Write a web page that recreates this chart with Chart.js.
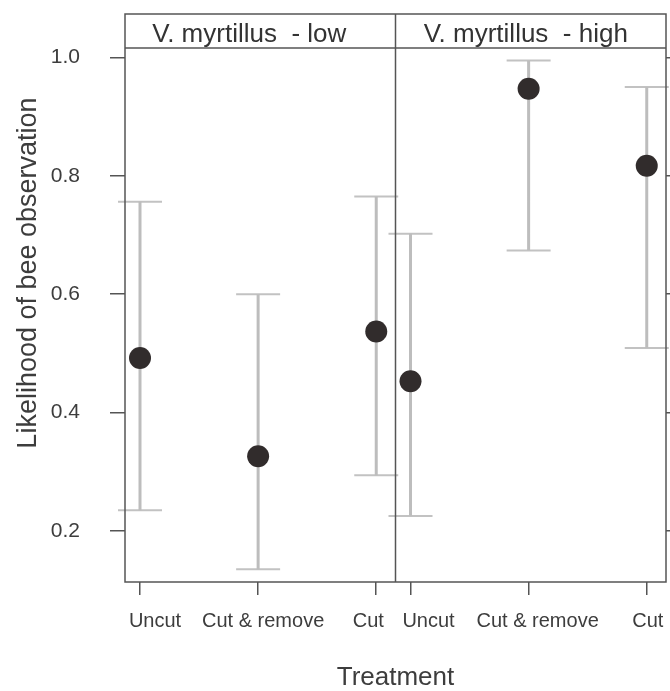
<!DOCTYPE html>
<html>
<head>
<meta charset="utf-8">
<script src="https://cdn.jsdelivr.net/npm/chart.js@4/dist/chart.umd.min.js"></script>
<style>
  body { margin: 0; background: #fff; }
  canvas { display: block; }
</style>
</head>
<body>
<canvas id="effectChart" width="670" height="691"></canvas>
<script>
// treatments and panels
var categories = ["Uncut", "Cut & remove", "Cut"];
var panels = ["V. myrtillus  - low", "V. myrtillus  - high"];

// fitted likelihood and 95% limits, per panel
var lowFit = [0.492, 0.326, 0.537];
var lowLower = [0.235, 0.135, 0.294];
var lowUpper = [0.756, 0.600, 0.765];

var highFit = [0.453, 0.947, 0.817];
var highLower = [0.225, 0.674, 0.509];
var highUpper = [0.702, 0.995, 0.950];

var yTicks = [0.2, 0.4, 0.6, 0.8, 1.0];
var yTitle = "Likelihood of bee observation";

// x layout: each panel spans PANEL_W category units
var X_MIN = 0.873;
var PANEL_W = 2.29;
var X_MAX = X_MIN + 2 * PANEL_W;
// the original nudges tick labels sideways so they don't collide (px)
var LABEL_SHIFT = [15, 5, -8, 18, 9, 1];
var STRIP_SHIFT = [-11, -5];

var fits = [lowFit, highFit];
var lowers = [lowLower, highLower];
var uppers = [lowUpper, highUpper];

function xOf(p, i) {
  return p * PANEL_W + i + 1;
}

var pointData = [], whiskerData = [], capData = [], xTickPos = [];
for (var p = 0; p < panels.length; p++) {
  for (var i = 0; i < categories.length; i++) {
    var x = xOf(p, i);
    xTickPos.push(x);
    pointData.push({x: x, y: fits[p][i]});
    whiskerData.push({x: x, y: lowers[p][i]});
    whiskerData.push({x: x, y: uppers[p][i]});
    whiskerData.push({x: x, y: null});
    capData.push({x: x, y: lowers[p][i]});
    capData.push({x: x, y: uppers[p][i]});
  }
}

var FONT = "'Liberation Sans', Arial, sans-serif";
var TEXT = "#3d3d3d";
var FRAME = "#555555";

// panel borders, divider, strip headers, x labels and the y title
var latticeFrame = {
  id: "latticeFrame",
  afterDatasetsDraw: function(chart) {
    var ctx = chart.ctx;
    var a = chart.chartArea;
    var xs = chart.scales.x;
    var stripTop = 14;
    ctx.save();
    ctx.strokeStyle = FRAME;
    ctx.lineWidth = 1.5;
    ctx.strokeRect(a.left, stripTop, a.right - a.left, a.bottom - stripTop);
    ctx.beginPath();
    ctx.moveTo(a.left, a.top);
    ctx.lineTo(a.right, a.top);
    var mid = xs.getPixelForValue(X_MIN + PANEL_W);
    ctx.moveTo(mid, stripTop);
    ctx.lineTo(mid, a.bottom);
    ctx.stroke();

    ctx.fillStyle = "#333";
    ctx.font = "26px " + FONT;
    ctx.textAlign = "center";
    ctx.textBaseline = "alphabetic";
    for (var p = 0; p < panels.length; p++) {
      var l = xs.getPixelForValue(X_MIN + p * PANEL_W);
      var r = xs.getPixelForValue(X_MIN + (p + 1) * PANEL_W);
      ctx.fillText(panels[p], (l + r) / 2 + STRIP_SHIFT[p], 42);
    }

    ctx.fillStyle = TEXT;
    ctx.font = "20px " + FONT;
    xs.ticks.forEach(function(t, k) {
      ctx.fillText(categories[k % categories.length], xs.getPixelForValue(t.value) + LABEL_SHIFT[k], 627);
    });

    ctx.font = "27px " + FONT;
    ctx.translate(36, 273);
    ctx.rotate(-Math.PI / 2);
    ctx.fillText(yTitle, 0, 0);
    ctx.restore();
  }
};

var ctx = document.getElementById("effectChart").getContext("2d");

var myChart = new Chart(ctx, {
  type: "scatter",
  data: {
    datasets: [
      {
        data: pointData,
        pointRadius: 11,
        pointBackgroundColor: "#312c2c",
        pointBorderWidth: 0,
        clip: false,
        order: 0
      },
      {
        data: whiskerData,
        showLine: true,
        spanGaps: false,
        borderColor: "#bdbdbd",
        borderWidth: 3,
        pointRadius: 0,
        clip: false,
        order: 1
      },
      {
        data: capData,
        pointStyle: "line",
        pointRadius: 22,
        pointBorderColor: "#c2c2c2",
        pointBorderWidth: 2,
        clip: false,
        order: 2
      }
    ]
  },
  options: {
    responsive: false,
    animation: false,
    layout: { autoPadding: false, padding: { top: 48, left: 0, right: 0, bottom: 0 } },
    plugins: {
      legend: { display: false },
      tooltip: { enabled: false }
    },
    scales: {
      x: {
        type: "linear",
        min: X_MIN,
        max: X_MAX,
        afterBuildTicks: function(scale) {
          scale.ticks = xTickPos.map(function(v) { return {value: v}; });
        },
        afterFit: function(scale) {
          scale.height = 109;
          scale.paddingLeft = 0;
          scale.paddingRight = 0;
        },
        grid: { drawOnChartArea: false, drawTicks: true, tickLength: 13, color: FRAME, lineWidth: 1.5 },
        border: { display: false },
        ticks: { display: false, autoSkip: false },
        title: {
          display: true,
          text: "Treatment",
          color: TEXT,
          font: { family: FONT, size: 26, lineHeight: 1 },
          padding: { top: 0, bottom: 0 }
        }
      },
      y: {
        position: "left",
        min: 0.1136,
        max: 1.016,
        afterBuildTicks: function(scale) {
          scale.ticks = yTicks.map(function(v) { return {value: v}; });
        },
        afterFit: function(scale) {
          scale.width = 125;
        },
        grid: { drawOnChartArea: false, drawTicks: true, tickLength: 15, color: FRAME, lineWidth: 1.5 },
        border: { display: false },
        ticks: {
          padding: 30,
          color: TEXT,
          font: { family: FONT, size: 21 },
          callback: function(value) { return value.toFixed(1); }
        }
      },
      yRight: {
        position: "right",
        min: 0.1136,
        max: 1.016,
        afterBuildTicks: function(scale) {
          scale.ticks = yTicks.map(function(v) { return {value: v}; });
        },
        afterFit: function(scale) {
          scale.width = 4;
        },
        grid: { drawOnChartArea: false, drawTicks: true, tickLength: 13, color: FRAME, lineWidth: 1.5 },
        border: { display: false },
        ticks: { display: false }
      }
    }
  },
  plugins: [latticeFrame]
});
</script>
</body>
</html>
